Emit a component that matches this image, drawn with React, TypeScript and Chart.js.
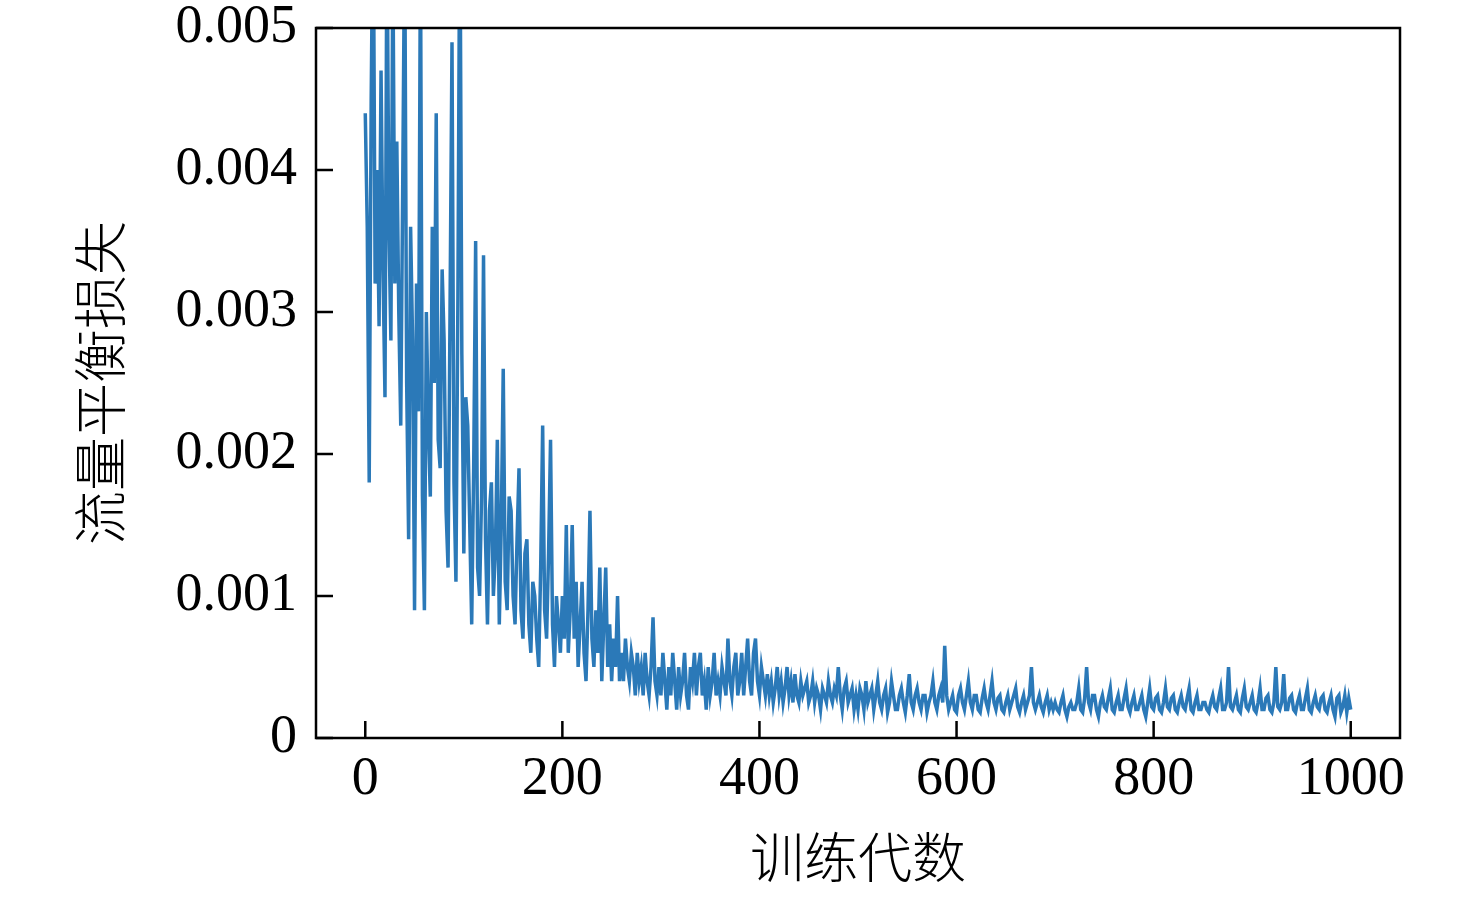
import React, { useEffect, useRef } from "react";
import { Chart, registerables, Plugin } from "chart.js";

Chart.register(...registerables);

const epochStep = 2;
const flowLoss: number[] = [
    0.0044, 0.0036, 0.0018, 0.0045, 0.0060, 0.0032, 0.0040, 0.0029, 0.0047, 0.0033,
    0.0024, 0.0058, 0.0036, 0.0028, 0.0055, 0.0032, 0.0042, 0.0030, 0.0022, 0.0039,
    0.0057, 0.0025, 0.0014, 0.0036, 0.0028, 0.0009, 0.0032, 0.0023, 0.0056, 0.0017,
    0.0009, 0.0030, 0.0022, 0.0017, 0.0036, 0.0025, 0.0044, 0.0021, 0.0019, 0.0033,
    0.0028, 0.0016, 0.0012, 0.0030, 0.0049, 0.0018, 0.0011, 0.0031, 0.0060, 0.0027,
    0.0013, 0.0024, 0.0022, 0.0015, 0.0008, 0.0019, 0.0035, 0.0012, 0.0010, 0.0017,
    0.0034, 0.0014, 0.0008, 0.0016, 0.0018, 0.0010, 0.0013, 0.0021, 0.0008, 0.0015,
    0.0026, 0.0011, 0.0009, 0.0017, 0.0016, 0.0010, 0.0008, 0.0014, 0.0019, 0.0009,
    0.0007, 0.0013, 0.0014, 0.0008, 0.0006, 0.0011, 0.0010, 0.0007, 0.0005, 0.0012,
    0.0022, 0.0009, 0.0007, 0.0013, 0.0021, 0.0008, 0.0005, 0.0010, 0.0008, 0.0006,
    0.0010, 0.0007, 0.0015, 0.0006, 0.0009, 0.0015, 0.0007, 0.0011, 0.0005, 0.0008,
    0.0011, 0.0006, 0.0004, 0.0009, 0.0016, 0.0007, 0.0005, 0.0009, 0.0006, 0.0012,
    0.0004, 0.0008, 0.0012, 0.0005, 0.0008, 0.0004, 0.0007, 0.0005, 0.0010, 0.0004,
    0.0006, 0.0004, 0.0007, 0.0005, 0.0004, 0.0006, 0.0005, 0.0003, 0.0006, 0.0004,
    0.0005, 0.0003, 0.0006, 0.0004, 0.0003, 0.0005, 0.00085, 0.0004, 0.0003, 0.0005,
    0.0003, 0.0006, 0.0004, 0.0002, 0.0005, 0.0003, 0.0006, 0.0004, 0.0002, 0.0005,
    0.0003, 0.0004, 0.0006, 0.0003, 0.0002, 0.0005, 0.0004, 0.0006, 0.0003, 0.0005,
    0.0006, 0.0003, 0.0004, 0.0002, 0.0005, 0.0003, 0.0004, 0.0006, 0.0003, 0.0004,
    0.0003, 0.0005, 0.0004, 0.0003, 0.0007, 0.0004, 0.0003, 0.0005, 0.0006, 0.0003,
    0.0004, 0.0006, 0.0003, 0.0005, 0.0007, 0.0004, 0.0003, 0.0006, 0.0007, 0.0004,
    0.0003, 0.0005, 0.0004, 0.0003, 0.00045, 0.0003, 0.0004, 0.00025, 0.00035, 0.0005,
    0.0003, 0.0004, 0.00025, 0.00035, 0.0005, 0.0003, 0.0004, 0.00025, 0.00045, 0.0003,
    0.00025, 0.0004, 0.0003, 0.00035, 0.0004, 0.00025, 0.0003, 0.0004, 0.00025, 0.00035,
    0.0003, 0.0002, 0.00035, 0.0003, 0.00025, 0.0004, 0.0003, 0.00025, 0.00035, 0.0003,
    0.0005, 0.0003, 0.0002, 0.00035, 0.0004, 0.00025, 0.0003, 0.00035, 0.0002, 0.0003,
    0.0002, 0.00035, 0.0003, 0.0002, 0.0004, 0.00025, 0.0003, 0.00035, 0.0002, 0.0003,
    0.0004, 0.00025, 0.0002, 0.0003, 0.00035, 0.00018, 0.00025, 0.0004, 0.0003, 0.0002,
    0.0002, 0.0003, 0.00035, 0.00025, 0.00018, 0.0003, 0.00045, 0.00025, 0.0002, 0.0003,
    0.00035, 0.00025, 0.0002, 0.0003, 0.0003, 0.00018, 0.00025, 0.0003, 0.0004, 0.00025,
    0.0002, 0.0003, 0.00035, 0.00025, 0.00065, 0.0003, 0.0002, 0.00025, 0.0003, 0.0002,
    0.00018, 0.0003, 0.00035, 0.00025, 0.0002, 0.0003, 0.0004, 0.00025, 0.0002, 0.0003,
    0.0003, 0.0002, 0.00018, 0.00028, 0.00035, 0.00025, 0.0002, 0.0003, 0.0004, 0.00025,
    0.0002, 0.00028, 0.0003, 0.0002, 0.00018, 0.00025, 0.0003, 0.0002, 0.00025, 0.0003,
    0.00035, 0.00022, 0.00018, 0.00025, 0.0003, 0.0002, 0.00025, 0.0003, 0.0005, 0.00025,
    0.0002, 0.00025, 0.0003, 0.00022, 0.00018, 0.00025, 0.0003, 0.0002, 0.00025, 0.0002,
    0.00025, 0.0002, 0.00018, 0.00025, 0.0003, 0.0002, 0.00015, 0.00022, 0.00025, 0.0002,
    0.0002, 0.00025, 0.00035, 0.0002, 0.00018, 0.00028, 0.0005, 0.00025, 0.0002, 0.0003,
    0.0003, 0.0002, 0.00015, 0.00025, 0.0003, 0.00022, 0.0002, 0.00028, 0.00035, 0.0002,
    0.00018, 0.00025, 0.0003, 0.0002, 0.0002, 0.00028, 0.00035, 0.00022, 0.00018, 0.00025,
    0.0003, 0.0002, 0.0002, 0.00025, 0.0003, 0.0002, 0.00015, 0.00025, 0.00035, 0.00022,
    0.0002, 0.00028, 0.0003, 0.0002, 0.00018, 0.00025, 0.00035, 0.00022, 0.0002, 0.00028,
    0.0003, 0.0002, 0.00018, 0.00025, 0.0003, 0.00022, 0.0002, 0.00028, 0.00035, 0.0002,
    0.00018, 0.00025, 0.0003, 0.0002, 0.0002, 0.00025, 0.00025, 0.0002, 0.00018, 0.00025,
    0.0003, 0.00022, 0.0002, 0.00028, 0.00035, 0.0002, 0.0002, 0.00025, 0.0005, 0.00022,
    0.0002, 0.00025, 0.0003, 0.0002, 0.00018, 0.00028, 0.00035, 0.00022, 0.0002, 0.00025,
    0.0003, 0.0002, 0.00018, 0.00025, 0.00035, 0.0002, 0.0002, 0.00028, 0.0003, 0.0002,
    0.00018, 0.00025, 0.0005, 0.00022, 0.0002, 0.00025, 0.00045, 0.0002, 0.0002, 0.00028,
    0.0003, 0.0002, 0.00018, 0.00025, 0.0003, 0.0002, 0.0002, 0.00028, 0.00035, 0.0002,
    0.00018, 0.00025, 0.0003, 0.00022, 0.0002, 0.00028, 0.0003, 0.0002, 0.00018, 0.00025,
    0.0003, 0.0002, 0.00015, 0.00028, 0.0003, 0.00018, 0.00022, 0.0003, 0.00018, 0.00028,
    0.0002,
];

const xTicks = [0, 200, 400, 600, 800, 1000];
const yTicks = [0, 0.001, 0.002, 0.003, 0.004, 0.005];
const xTitle = "训练代数";
const yTitle = "流量平衡损失";

const serif = '"Liberation Serif", "Times New Roman", serif';
const cjk = '"Noto Sans CJK SC", sans-serif';

// box around the plot + ticks pointing inwards
const frameAndTicks: Plugin<"line"> = {
    id: "frameAndTicks",
    afterDraw: (chart) => {
        const { ctx, chartArea } = chart;
        const xs = chart.scales.x;
        const ys = chart.scales.y;
        ctx.save();
        ctx.strokeStyle = "#000";
        ctx.lineWidth = 2.5;
        ctx.beginPath();
        xTicks.forEach((v) => {
            const px = xs.getPixelForValue(v);
            ctx.moveTo(px, chartArea.bottom);
            ctx.lineTo(px, chartArea.bottom - 17);
        });
        yTicks.forEach((v) => {
            const py = ys.getPixelForValue(v);
            ctx.moveTo(chartArea.left, py);
            ctx.lineTo(chartArea.left + 17, py);
        });
        ctx.stroke();
        ctx.strokeRect(chartArea.left, chartArea.top, chartArea.right - chartArea.left, chartArea.bottom - chartArea.top);
        ctx.restore();
    },
};

const App: React.FC = () => {
    const canvasRef = useRef<HTMLCanvasElement | null>(null);

    useEffect(() => {
        if (!canvasRef.current) return;
        const points = flowLoss.map((v, i) => ({ x: i * epochStep, y: v }));

        const chart = new Chart(canvasRef.current, {
            type: "line",
            data: {
                datasets: [
                    {
                        data: points,
                        borderColor: "#2b79b8",
                        borderWidth: 3.5,
                        pointRadius: 0,
                        tension: 0,
                    },
                ],
            },
            options: {
                responsive: false,
                devicePixelRatio: 1,
                animation: false,
                layout: { padding: { top: 28, right: 76, left: 0, bottom: 0 } },
                plugins: { legend: { display: false }, tooltip: { enabled: false } },
                scales: {
                    x: {
                        type: "linear",
                        min: -50,
                        max: 1050,
                        afterBuildTicks: (s) => {
                            s.ticks = xTicks.map((v) => ({ value: v }));
                        },
                        afterFit: (s) => {
                            s.height = 159;
                            s.paddingLeft = 0;
                            s.paddingRight = 0;
                        },
                        grid: { display: false, drawTicks: false },
                        border: { display: false },
                        ticks: {
                            color: "#000",
                            padding: 9,
                            maxRotation: 0,
                            font: { family: serif, size: 54 },
                            callback: (v) => String(v),
                        },
                        title: {
                            display: true,
                            text: xTitle,
                            color: "#000",
                            font: { family: cjk, size: 54, weight: 300 },
                            padding: { top: 0, bottom: 7 },
                        },
                    },
                    y: {
                        min: 0,
                        max: 0.005,
                        afterBuildTicks: (s) => {
                            s.ticks = yTicks.map((v) => ({ value: v }));
                        },
                        afterFit: (s) => {
                            s.width = 316;
                            s.paddingTop = 0;
                            s.paddingBottom = 0;
                        },
                        grid: { display: false, drawTicks: false },
                        border: { display: false },
                        ticks: {
                            color: "#000",
                            padding: 19,
                            font: { family: serif, size: 54 },
                            callback: (v) => (Number(v) === 0 ? "0" : Number(v).toFixed(3)),
                        },
                        title: {
                            display: true,
                            text: yTitle,
                            color: "#000",
                            font: { family: cjk, size: 54, weight: 300 },
                            padding: { top: 68, bottom: 0 },
                        },
                    },
                },
            },
            plugins: [frameAndTicks],
        });

        return () => {
            chart.destroy();
        };
    }, []);

    return (
        <div style={{ position: "absolute", left: 0, top: 0, width: 1476, height: 897, background: "#fff" }}>
            <canvas ref={canvasRef} width={1476} height={897}></canvas>
        </div>
    );
};

export default App;
